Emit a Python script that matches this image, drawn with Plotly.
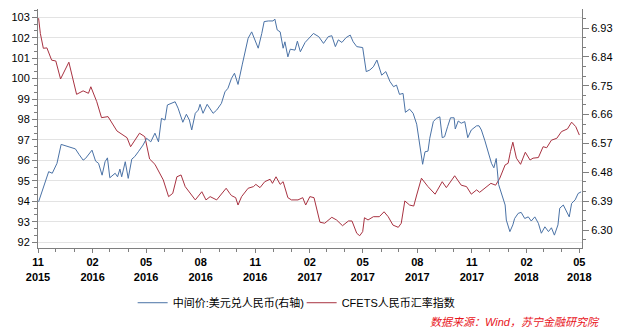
import plotly.graph_objects as go

# CFETS RMB index (left axis)
cfets_dates = ["2015-11-02","2015-11-05","2015-11-10","2015-11-16","2015-11-24","2015-12-01","2015-12-09","2015-12-23",
"2016-01-05","2016-01-16","2016-01-25","2016-01-29","2016-02-08","2016-02-16","2016-02-27","2016-03-13","2016-03-30",
"2016-04-05","2016-04-20","2016-04-29","2016-05-07","2016-05-16","2016-05-30","2016-06-08","2016-06-15","2016-06-22",
"2016-06-29","2016-07-06","2016-07-23","2016-08-03","2016-08-10","2016-08-17","2016-08-28","2016-09-13","2016-09-19",
"2016-09-22","2016-09-29","2016-10-03","2016-10-09","2016-10-20","2016-10-29","2016-11-02","2016-11-09","2016-11-17",
"2016-11-26","2016-11-30","2016-12-06","2016-12-13","2016-12-18","2016-12-26","2017-01-01","2017-01-12","2017-01-20",
"2017-01-25","2017-02-01","2017-02-08","2017-02-18","2017-02-26","2017-03-10","2017-03-18","2017-03-28","2017-04-07",
"2017-04-13","2017-04-21","2017-04-26","2017-05-01","2017-05-04","2017-05-10","2017-05-19","2017-05-29","2017-06-06",
"2017-06-13","2017-06-21","2017-06-30","2017-07-05","2017-07-11","2017-07-19","2017-07-26","2017-07-31","2017-08-08",
"2017-08-19","2017-08-31","2017-09-12","2017-09-19","2017-09-28","2017-10-03","2017-10-14","2017-10-23","2017-10-31",
"2017-11-09","2017-11-14","2017-11-23","2017-12-03","2017-12-11","2017-12-18","2017-12-27","2018-01-01","2018-01-05",
"2018-01-09","2018-01-15","2018-01-22","2018-01-30","2018-02-07","2018-02-12","2018-02-21","2018-03-01","2018-03-07",
"2018-03-15","2018-03-24","2018-04-01","2018-04-11","2018-04-18","2018-04-25","2018-05-01"]
cfets_values = [102.95,102.2,101.48,101.5,100.9,100.86,99.98,100.8,99.23,99.4,99.28,99.6,98.87,98.09,98.14,97.44,97.11,
96.67,97.33,97.16,96.07,95.81,95.05,94.23,94.39,95.2,95.29,94.72,94.07,94.47,94.07,94.23,94.07,94.64,94.39,94.28,94.18,
93.82,94.23,94.64,94.72,94.83,94.67,94.96,95.08,94.88,95.2,94.83,94.96,94.18,94.07,94.07,94.18,93.82,94.23,94.18,92.98,
92.93,93.22,93.09,92.81,93.04,93.04,92.44,92.32,92.52,93.2,93.09,93.25,93.25,93.49,93.25,92.84,92.73,92.93,94.02,93.82,
93.77,94.31,95.13,94.72,94.35,94.96,94.67,95.04,95.25,94.79,94.72,94.35,94.56,94.44,94.64,94.88,94.79,95.13,95.78,95.86,
96.43,96.89,96.11,95.81,96.4,96.02,96.11,96.14,96.67,96.62,96.99,97.08,97.41,97.54,97.87,97.65,97.24]

# USD/CNY central parity (right axis)
usd_dates = ["2015-11-02","2015-11-05","2015-11-13","2015-11-19","2015-11-25","2015-12-03","2015-12-10","2015-12-17",
"2015-12-25","2016-01-03","2016-01-09","2016-01-16","2016-01-20","2016-01-31","2016-02-06","2016-02-11","2016-02-17",
"2016-02-22","2016-02-26","2016-03-01","2016-03-10","2016-03-14","2016-03-18","2016-03-21","2016-03-27","2016-04-01",
"2016-04-07","2016-04-12","2016-04-18","2016-04-26","2016-05-02","2016-05-09","2016-05-16","2016-05-22","2016-05-27",
"2016-06-02","2016-06-06","2016-06-13","2016-06-19","2016-06-24","2016-07-02","2016-07-08","2016-07-13","2016-07-17",
"2016-07-23","2016-07-28","2016-07-31","2016-08-05","2016-08-12","2016-08-22","2016-08-28","2016-09-05","2016-09-11",
"2016-09-16","2016-09-22","2016-09-27","2016-10-03","2016-10-10","2016-10-16","2016-10-20","2016-10-26","2016-11-01",
"2016-11-06","2016-11-12","2016-11-16","2016-11-23","2016-12-01","2016-12-04","2016-12-08","2016-12-13","2016-12-18",
"2016-12-21","2016-12-26","2016-12-30","2017-01-07","2017-01-11","2017-01-16","2017-01-24","2017-01-31","2017-02-07",
"2017-02-16","2017-02-24","2017-03-04","2017-03-10","2017-03-16","2017-03-21","2017-03-27","2017-04-03","2017-04-10",
"2017-04-15","2017-04-21","2017-05-01","2017-05-07","2017-05-13","2017-05-19","2017-05-25","2017-06-02","2017-06-09",
"2017-06-16","2017-06-22","2017-06-27","2017-07-02","2017-07-08","2017-07-12","2017-07-19","2017-07-25","2017-07-31",
"2017-08-04","2017-08-07","2017-08-10","2017-08-14","2017-08-19","2017-08-22","2017-08-28","2017-09-02","2017-09-08",
"2017-09-12","2017-09-16","2017-09-21","2017-09-26","2017-10-02","2017-10-04","2017-10-09","2017-10-14","2017-10-20",
"2017-10-25","2017-10-31","2017-11-09","2017-11-13","2017-11-17","2017-11-23","2017-11-28","2017-12-04","2017-12-08",
"2017-12-12","2017-12-16","2017-12-21","2017-12-27","2017-12-29","2018-01-04","2018-01-09","2018-01-12","2018-01-18",
"2018-01-23","2018-01-29","2018-02-04","2018-02-09","2018-02-15","2018-02-21","2018-02-26","2018-03-04","2018-03-10",
"2018-03-15","2018-03-20","2018-03-26","2018-03-29","2018-04-04","2018-04-10","2018-04-14","2018-04-18","2018-04-24",
"2018-04-29","2018-05-04"]
usd_values = [6.388,6.404,6.451,6.482,6.477,6.508,6.567,6.563,6.557,6.553,6.536,6.518,6.523,6.549,6.515,6.508,6.471,
6.513,6.525,6.463,6.477,6.466,6.49,6.466,6.513,6.461,6.521,6.529,6.544,6.565,6.586,6.575,6.602,6.575,6.648,6.643,6.69,
6.695,6.7,6.68,6.636,6.661,6.643,6.612,6.664,6.674,6.692,6.664,6.692,6.664,6.674,6.695,6.731,
6.742,6.773,6.789,6.754,6.815,6.867,6.898,6.918,6.887,6.867,6.913,6.95,6.952,6.952,6.958,6.924,6.918,6.867,6.887,6.84,
6.864,6.861,6.889,6.856,6.885,6.898,6.913,6.903,6.882,6.903,6.906,6.872,6.893,6.885,6.9,6.908,6.887,6.872,6.869,6.794,
6.799,6.809,6.83,6.783,6.794,6.763,6.747,6.752,6.723,6.726,6.667,6.677,6.664,6.63,6.58,6.544,6.505,6.544,6.546,6.586,
6.638,6.648,6.653,6.588,6.591,6.622,6.65,6.65,6.615,6.64,6.633,6.638,6.588,6.612,6.625,6.625,6.612,6.578,6.544,6.508,
6.494,6.523,6.442,6.414,6.378,6.331,6.295,6.316,6.336,6.352,6.355,6.336,6.341,6.328,6.341,6.321,6.29,6.31,6.295,6.307,
6.284,6.316,6.368,6.378,6.357,6.341,6.383,6.394,6.414,6.419]

assert len(cfets_dates) == len(cfets_values), (len(cfets_dates), len(cfets_values))
assert len(usd_dates) == len(usd_values), (len(usd_dates), len(usd_values))

x_tick_vals = ["2015-11-01","2016-02-01","2016-05-01","2016-08-01","2016-11-01","2017-02-01","2017-05-01",
               "2017-08-01","2017-11-01","2018-02-01","2018-05-01"]
x_tick_text = ["11<br>2015","02<br>2016","05<br>2016","08<br>2016","11<br>2016","02<br>2017","05<br>2017",
               "08<br>2017","11<br>2017","02<br>2018","05<br>2018"]
left_ticks = [92, 93, 94, 95, 96, 97, 98, 99, 100, 101, 102, 103]
right_ticks = [6.30, 6.39, 6.48, 6.57, 6.66, 6.75, 6.84, 6.93]

name_usd = "中间价:美元兑人民币(右轴)"
name_cfets = "CFETS人民币汇率指数"
source_text = "数据来源：Wind，苏宁金融研究院"

FONT = "Liberation Sans, Arial, Noto Sans CJK SC, sans-serif"
AXIS_COLOR = "#7f7f7f"
BLUE = "#4a72a6"
RED = "#a83241"

fig = go.Figure()
fig.add_trace(go.Scatter(x=usd_dates, y=usd_values, name=name_usd, mode="lines",
                         line=dict(color=BLUE, width=1), yaxis="y2"))
fig.add_trace(go.Scatter(x=cfets_dates, y=cfets_values, name=name_cfets, mode="lines",
                         line=dict(color=RED, width=1), yaxis="y"))

fig.update_layout(
    width=631, height=335,
    margin=dict(l=38, r=49, t=9, b=87),
    paper_bgcolor="white", plot_bgcolor="white",
    font=dict(family=FONT, size=11, color="black"),
    showlegend=True,
    legend=dict(orientation="h", x=0.174, xanchor="left", y=-0.229, yanchor="middle",
                font=dict(size=11, color="black"), itemwidth=30, entrywidth=124,
                entrywidthmode="pixels", bgcolor="rgba(0,0,0,0)"),
    xaxis=dict(type="date", range=["2015-11-01", "2018-05-05 12:00"],
               tickmode="array", tickvals=x_tick_vals, ticktext=x_tick_text,
               tickfont=dict(size=11, weight="bold", color="black"),
               showline=True, linecolor=AXIS_COLOR, linewidth=1,
               ticks="outside", ticklen=4, tickcolor=AXIS_COLOR,
               showgrid=False, zeroline=False,
               minor=dict(dtick="M1", tick0="2015-11-01", ticks="outside", ticklen=3,
                          tickcolor=AXIS_COLOR, showgrid=False)),
    yaxis=dict(range=[91.72, 103.4], tickmode="array", tickvals=left_ticks,
               showline=True, linecolor=AXIS_COLOR, linewidth=1,
               ticks="outside", ticklen=5, tickcolor=AXIS_COLOR,
               showgrid=True, gridcolor="#e3e3e3", gridwidth=1, zeroline=False,
               tickfont=dict(size=11, color="black"),
               minor=dict(dtick=1/3, tick0=92, ticks="outside", ticklen=3,
                          tickcolor=AXIS_COLOR, showgrid=False)),
    yaxis2=dict(range=[6.2439, 6.9893], overlaying="y", side="right", anchor="x",
                tickmode="array", tickvals=right_ticks, tickformat=".2f",
                showline=True, linecolor=AXIS_COLOR, linewidth=1,
                ticks="outside", ticklen=6, tickcolor=AXIS_COLOR,
                showgrid=False, zeroline=False,
                tickfont=dict(size=11, color="black"),
                minor=dict(dtick=0.03, tick0=6.30, ticks="outside", ticklen=3,
                           tickcolor=AXIS_COLOR, showgrid=False)),
    annotations=[dict(text=source_text, xref="paper", yref="paper",
                      x=(602 - 38) / 544, y=-(322 - 248) / 239,
                      xanchor="right", yanchor="middle", showarrow=False,
                      font=dict(size=11, color="#e8141b", style="italic"))],
)

fig.write_html("out.html")
